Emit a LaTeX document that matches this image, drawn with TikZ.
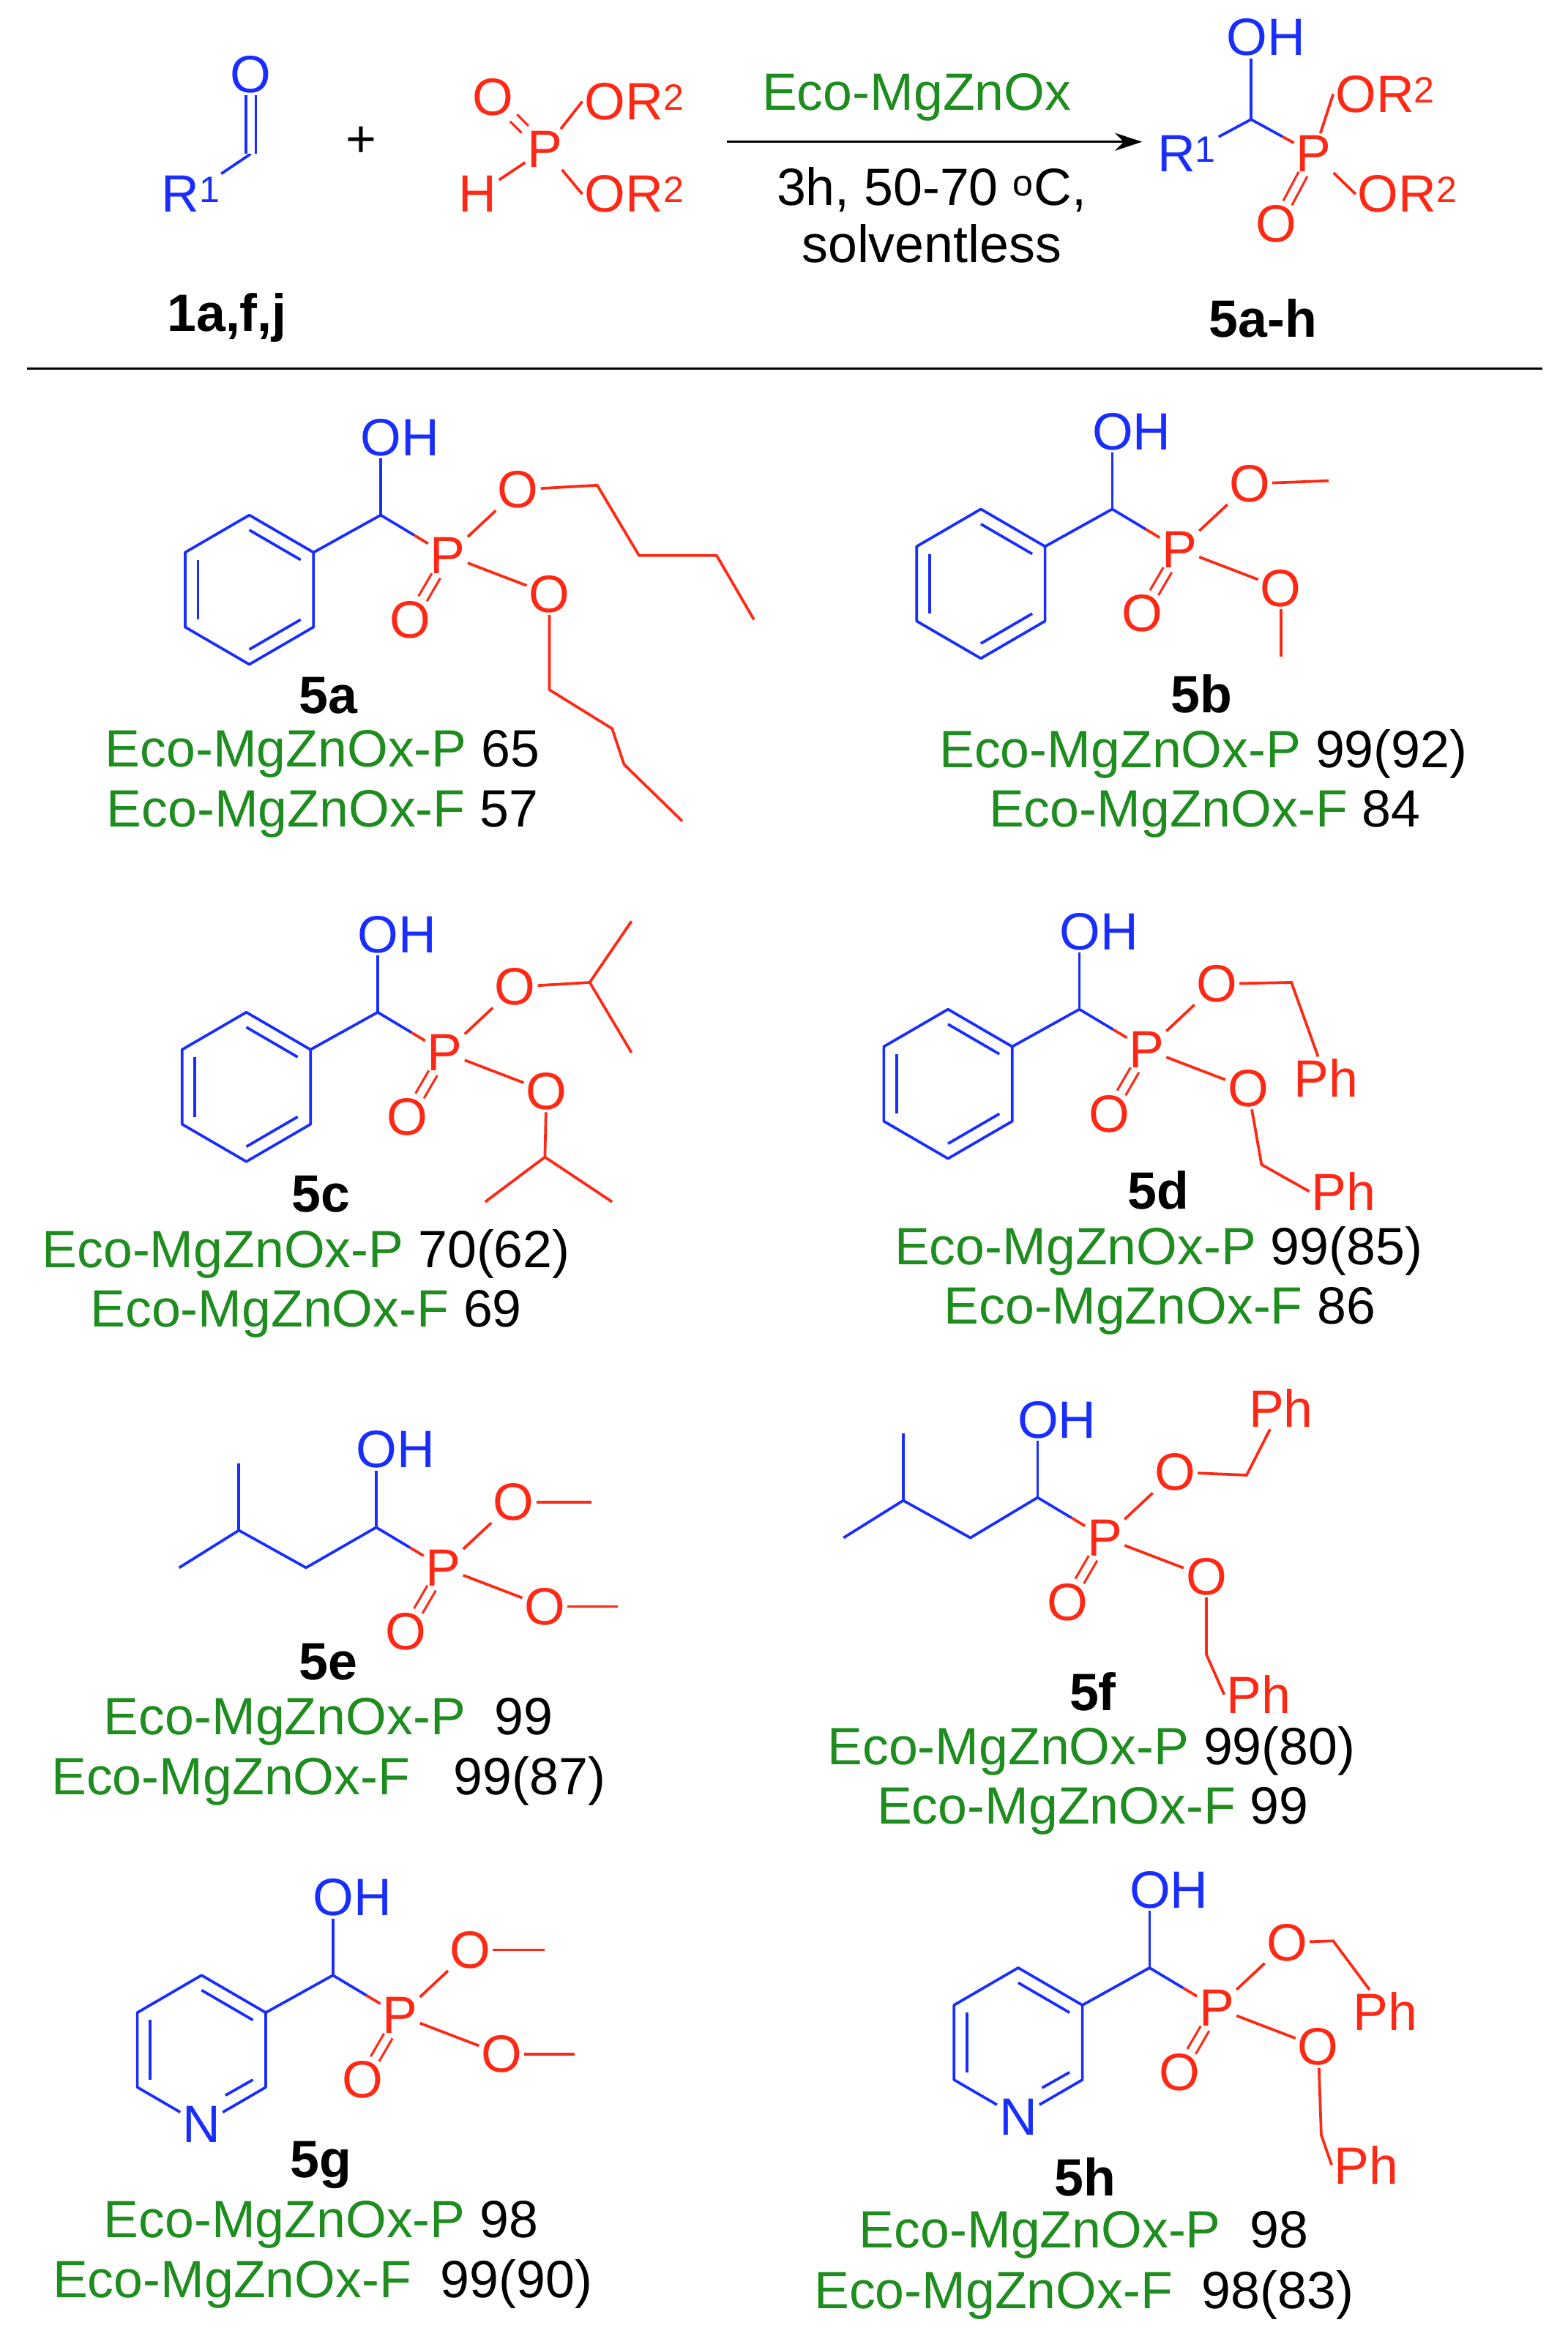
\documentclass[tikz,border=0pt]{standalone}
\usepackage{fontspec}
\setmainfont{Liberation Sans}
\usetikzlibrary{calc,arrows.meta}
\definecolor{cb}{RGB}{25,45,255}
\definecolor{cr}{RGB}{255,40,20}
\definecolor{cg}{RGB}{30,140,30}
\tikzset{
 bondb/.style={line width=2.6pt,cb},
 bondr/.style={line width=2.6pt,cr},
 dbl/.style={double,double distance=7pt,line width=2.2pt},
 atB/.style={text=cb,inner sep=2pt},
 atR/.style={text=cr,inner sep=2pt},
 lbl/.style={inner sep=0pt,font=\fontsize{50}{60}\selectfont\bfseries},
 yld/.style={inner sep=0pt}
}
\newcommand\hpcore[4]{%
\begin{scope}[shift={(#2,#3)}]
\node[atR] (#1P) at (0,0) {P};
\coordinate (#1C) at (-45,-27);
\node[atB] (#1OH) at (-32,-79) {OH};
\node[atR] (#1Od) at (-25,43) {O};
\node[atR] (#1O1) at (47,-44) {O};
\node[atR] (#1O2) at (68,26) {O};
\draw[bondb] (#1C) -- (#1C |- #1OH.south);
\draw[bondb] (#1C) -- ($(#1C)!0.5!(#1P)$);
\draw[bondr] ($(#1C)!0.5!(#1P)$) -- (#1P);
\draw[bondr,dbl] (#1P) -- (#1Od);
\draw[bondr] (#1P) -- (#1O1);
\draw[bondr] (#1P) -- (#1O2);
\ifcase#4
 \coordinate (#1c) at (-133,23);
 \coordinate (#1v1) at (-90,-2);\coordinate (#1v2) at (-90,48);\coordinate (#1v3) at (-133,73);
 \coordinate (#1v4) at (-176,48);\coordinate (#1v5) at (-176,-2);\coordinate (#1v6) at (-133,-27);
 \draw[bondb] (#1C) -- (#1v1);
 \draw[bondb,line join=round] (#1v1)--(#1v2)--(#1v3)--(#1v4)--(#1v5)--(#1v6)--cycle;
 \draw[bondb] ($(#1c)!0.8!(#1v4)$) -- ($(#1c)!0.8!(#1v5)$);
 \draw[bondb] ($(#1c)!0.8!(#1v6)$) -- ($(#1c)!0.8!(#1v1)$);
 \draw[bondb] ($(#1c)!0.8!(#1v2)$) -- ($(#1c)!0.8!(#1v3)$);
\or
 \coordinate (#1c) at (-133,23);
 \coordinate (#1v1) at (-90,-2);\coordinate (#1v2) at (-90,48);\node[atB] (#1N) at (-133,73) {N};
 \coordinate (#1v4) at (-176,48);\coordinate (#1v5) at (-176,-2);\coordinate (#1v6) at (-133,-27);
 \coordinate (#1m) at (-113,61);
 \draw[bondb] (#1C) -- (#1v1);
 \draw[bondb,line join=round] (#1N)--(#1v4)--(#1v5)--(#1v6)--(#1v1)--(#1v2)--(#1N);
 \draw[bondb] ($(#1c)!0.8!(#1v4)$) -- ($(#1c)!0.8!(#1v5)$);
 \draw[bondb] ($(#1c)!0.8!(#1v6)$) -- ($(#1c)!0.8!(#1v1)$);
 \draw[bondb] ($(#1c)!0.8!(#1v2)$) -- ($(#1c)!0.8!(#1m)$);
\or
\fi
\end{scope}}
\begin{document}
\begin{tikzpicture}[x=0.05cm,y=-0.05cm,font=\fontsize{50}{60}\selectfont]
\useasboundingbox (0,0) rectangle (1050,1572);
% ---- scheme ----
\node[atB] (aR) at (128,130) {R\textsuperscript{1}};
\coordinate (aC) at (168,103);
\node[atB] (aO) at (168,50) {O};
\draw[bondb] (aR) -- (aC);
\draw[bondb,dbl] (aC) -- (aO);
\node (plus) at (242,95) {+};
\node[atR] (hP) at (365,100) {P};
\node[atR] (hO) at (330,65) {O};
\node[atR] (hH) at (320,130) {H};
\node[atR,anchor=west] (hOR1) at (390,68) {OR\textsuperscript{2}};
\node[atR,anchor=west] (hOR2) at (390,130) {OR\textsuperscript{2}};
\draw[bondr,dbl] (hP) -- (hO);
\draw[bondr] (hP) -- (hH);
\draw[bondr] (hP) -- (hOR1.west);
\draw[bondr] (hP) -- (hOR2.west);
\coordinate (ar1) at (487,95); \coordinate (ar2) at (765,95);
\draw[line width=2pt,-{Stealth[length=26pt,width=17pt]}] (ar1) -- (ar2);
\node[text=cg] (cat) at (614,65) {Eco-MgZnOx};
\node (cond1) at (624,127) {3h, 50-70 \textsuperscript{o}C,};
\node (cond2) at (624,163) {solventless};
\node[atB] (pR) at (795,103) {R\textsuperscript{1}};
\coordinate (pC) at (838,80);
\node[atB] (pOH) at (848,25) {OH};
\node[atR] (pP) at (880,103) {P};
\node[atR] (pOd) at (855,150) {O};
\node[atR,anchor=west] (pOR1) at (893,63) {OR\textsuperscript{2}};
\node[atR,anchor=west] (pOR2) at (908,130) {OR\textsuperscript{2}};
\draw[bondb] (pR) -- (pC);
\draw[bondb] (pC) -- (pC |- pOH.south);
\draw[bondb] (pC) -- ($(pC)!0.5!(pP)$);
\draw[bondr] ($(pC)!0.5!(pP)$) -- (pP);
\draw[bondr,dbl] (pP) -- (pOd);
\draw[bondr] (pP) -- (pOR1.west);
\draw[bondr] (pP) -- (pOR2.west);
\node[lbl] (l1) at (152,213) {1a,f,j};
\node[lbl] (l2) at (846,213) {5a-h};
\coordinate (hl1) at (18,247); \coordinate (hl2) at (1033,247);
\draw[line width=2.4pt] (hl1) -- (hl2);
% ---- 5a ----
\hpcore{a}{300}{372}{0}
\coordinate (a1) at (400,325);\coordinate (a2) at (428,372);\coordinate (a3) at (480,372);\coordinate (a4) at (505,415);
\draw[bondr,line join=round] (aO1) -- (a1) -- (a2) -- (a3) -- (a4);
\coordinate (a5) at (368,462);\coordinate (a6) at (410,488);\coordinate (a7) at (418,512);\coordinate (a8) at (457,550);
\draw[bondr,line join=round] (aO2) -- (a5) -- (a6) -- (a7) -- (a8);
\node[lbl] (n5a) at (220,466) {5a};
\node[yld] (ya1) at (216,505) {\textcolor{cg}{Eco-MgZnOx-P} 65};
\node[yld] (ya2) at (216,545) {\textcolor{cg}{Eco-MgZnOx-F} 57};
% ---- 5b ----
\hpcore{b}{790}{368}{0}
\coordinate (b1) at (890,322);\coordinate (b2) at (858,440);
\draw[bondr] (bO1) -- (b1); \draw[bondr] (bO2) -- (b2);
\node[lbl] (n5b) at (805,465) {5b};
\node[yld] (yb1) at (806,505) {\textcolor{cg}{Eco-MgZnOx-P} 99(92)};
\node[yld] (yb2) at (807,545) {\textcolor{cg}{Eco-MgZnOx-F} 84};
% ---- 5c ----
\hpcore{c}{298}{705}{0}
\coordinate (c1) at (395,658);\coordinate (c2) at (423,617);\coordinate (c3) at (423,705);
\draw[bondr] (cO1) -- (c1) -- (c2); \draw[bondr] (c1) -- (c3);
\coordinate (c4) at (365,775);\coordinate (c5) at (325,805);\coordinate (c6) at (410,805);
\draw[bondr] (cO2) -- (c4) -- (c5); \draw[bondr] (c4) -- (c6);
\node[lbl] (n5c) at (215,800) {5c};
\node[yld] (yc1) at (205,840) {\textcolor{cg}{Eco-MgZnOx-P} 70(62)};
\node[yld] (yc2) at (205,880) {\textcolor{cg}{Eco-MgZnOx-F} 69};
% ---- 5d ----
\hpcore{d}{768}{703}{0}
\coordinate (d1) at (865,658); \node[atR] (dPh1) at (888,722) {Ph};
\draw[bondr] (dO1) -- (d1) -- (dPh1);
\coordinate (d2) at (845,780); \node[atR] (dPh2) at (900,798) {Ph};
\draw[bondr] (dO2) -- (d2) -- (dPh2.west);
\node[lbl] (n5d) at (776,797) {5d};
\node[yld] (yd1) at (776,838) {\textcolor{cg}{Eco-MgZnOx-P} 99(85)};
\node[yld] (yd2) at (777,878) {\textcolor{cg}{Eco-MgZnOx-F} 86};
% ---- 5e ----
\hpcore{e}{297}{1050}{2}
\coordinate (e1) at (120,1050);\coordinate (e2) at (160,1025);\coordinate (e3) at (205,1050);\coordinate (e4) at (160,980);
\draw[bondb,line join=round] (e1) -- (e2) -- (e3) -- (eC); \draw[bondb] (e2) -- (e4);
\coordinate (e5) at (396,1006);\coordinate (e6) at (414,1076);
\draw[bondr] (eO1) -- (e5); \draw[bondr] (eO2) -- (e6);
\node[lbl] (n5e) at (220,1113) {5e};
\node[yld] (ye1) at (220,1153) {\textcolor{cg}{Eco-MgZnOx-P}\ \ 99};
\node[yld] (ye2) at (220,1193) {\textcolor{cg}{Eco-MgZnOx-F}\ \ \ 99(87)};
% ---- 5f ----
\hpcore{f}{740}{1030}{2}
\coordinate (f1) at (565,1030);\coordinate (f2) at (605,1005);\coordinate (f3) at (650,1030);\coordinate (f4) at (605,960);
\draw[bondb,line join=round] (f1) -- (f2) -- (f3) -- (fC); \draw[bondb] (f2) -- (f4);
\coordinate (f5) at (835,988); \node[atR] (fPh1) at (858,943) {Ph};
\draw[bondr] (fO1) -- (f5) -- (fPh1);
\coordinate (f6) at (808,1108); \node[atR] (fPh2) at (843,1135) {Ph};
\draw[bondr] (fO2) -- (f6) -- (fPh2.west);
\node[lbl] (n5f) at (732,1133) {5f};
\node[yld] (yf1) at (731,1173) {\textcolor{cg}{Eco-MgZnOx-P} 99(80)};
\node[yld] (yf2) at (732,1213) {\textcolor{cg}{Eco-MgZnOx-F} 99};
% ---- 5g ----
\hpcore{g}{268}{1350}{1}
\coordinate (g1) at (365,1306);\coordinate (g2) at (385,1376);
\draw[bondr] (gO1) -- (g1); \draw[bondr] (gO2) -- (g2);
\node[lbl] (n5g) at (215,1450) {5g};
\node[yld] (yg1) at (215,1490) {\textcolor{cg}{Eco-MgZnOx-P} 98};
\node[yld] (yg2) at (216,1530) {\textcolor{cg}{Eco-MgZnOx-F}\ \ 99(90)};
% ---- 5h ----
\hpcore{h}{815}{1345}{1}
\coordinate (h1) at (893,1300); \node[atR] (hPh1) at (928,1347) {Ph};
\draw[bondr] (hO1) -- (h1) -- (hPh1);
\coordinate (h2) at (885,1430); \node[atR] (hPh2) at (915,1450) {Ph};
\draw[bondr] (hO2) -- (h2) -- (hPh2.west);
\node[lbl] (n5h) at (727,1458) {5h};
\node[yld] (yh1) at (726,1497) {\textcolor{cg}{Eco-MgZnOx-P}\ \ 98};
\node[yld] (yh2) at (726,1537) {\textcolor{cg}{Eco-MgZnOx-F}\ \ 98(83)};
\end{tikzpicture}
\end{document}
